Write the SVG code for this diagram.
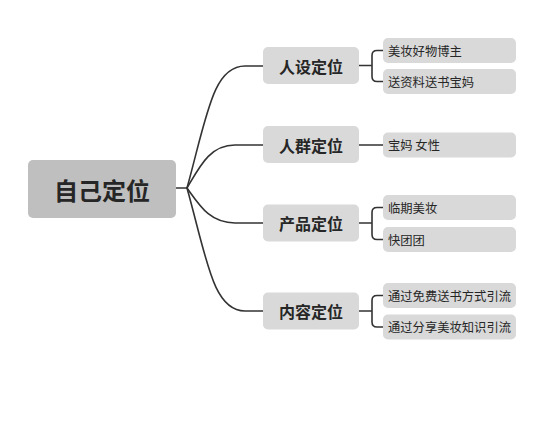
<svg xmlns="http://www.w3.org/2000/svg" width="560" height="424" viewBox="0 0 560 424">
<style>
text{font-family:"Noto Sans CJK SC","Noto Sans",sans-serif;fill:#262626}
.root{fill:#bfbfbf}
.l1{fill:#d9d9d9}
.l2{fill:#d9d9d9}
.t0{font-size:24px;font-weight:bold;text-anchor:middle;dominant-baseline:central}
.t1{font-size:16px;font-weight:bold;text-anchor:middle;dominant-baseline:central}
.t2{font-size:12.3px;dominant-baseline:central}
.c{fill:none;stroke:#333;stroke-width:1.6;stroke-linecap:round}
</style>
<rect width="560" height="424" fill="#fff"/>
<g id="connectors">
<path class="c" d="M176 188 H187"/>
<path class="c" d="M187 188 C207 115 213 66 245 66 H263"/>
<path class="c" d="M187 188 C200 166 210 145 235 145 H263"/>
<path class="c" d="M187 188 C200 206 210 223 235 223 H263"/>
<path class="c" d="M187 188 C207 260 213 311 245 311 H263"/>
<path class="c" d="M359 65.5 H372 M383 50.5 H377 Q372 50.5 372 55.5 V76.5 Q372 81.5 377 81.5 H383"/>
<path class="c" d="M359 145 H383"/>
<path class="c" d="M359 223 H372 M383 207.5 H377 Q372 207.5 372 212.5 V234.5 Q372 239.5 377 239.5 H383"/>
<path class="c" d="M359 311 H372 M383 295.5 H377 Q372 295.5 372 300.5 V322 Q372 327 377 327 H383"/>
</g>
<g id="root">
<rect class="root" x="28" y="160" width="148" height="58" rx="5"/>
<text class="t0" x="102" y="189">自己定位</text>
</g>
<g id="n1">
<rect class="l1" x="263" y="47" width="96" height="37" rx="5"/>
<text class="t1" x="311" y="65.5">人设定位</text>
</g>
<g id="n2">
<rect class="l1" x="263" y="126" width="96" height="37" rx="5"/>
<text class="t1" x="311" y="144.5">人群定位</text>
</g>
<g id="n3">
<rect class="l1" x="263" y="204.5" width="96" height="37" rx="5"/>
<text class="t1" x="311" y="223">产品定位</text>
</g>
<g id="n4">
<rect class="l1" x="263" y="292.5" width="96" height="37" rx="5"/>
<text class="t1" x="311" y="311">内容定位</text>
</g>
<g id="n1a">
<rect class="l2" x="383" y="38" width="133" height="25" rx="5"/>
<text class="t2" x="388" y="50.5">美妆好物博主</text>
</g>
<g id="n1b">
<rect class="l2" x="383" y="69" width="133" height="25" rx="5"/>
<text class="t2" x="388" y="81.5">送资料送书宝妈</text>
</g>
<g id="n2a">
<rect class="l2" x="383" y="132.5" width="133" height="25" rx="5"/>
<text class="t2" x="388" y="145">宝妈 女性</text>
</g>
<g id="n3a">
<rect class="l2" x="383" y="195" width="133" height="25" rx="5"/>
<text class="t2" x="388" y="207.5">临期美妆</text>
</g>
<g id="n3b">
<rect class="l2" x="383" y="227" width="133" height="25" rx="5"/>
<text class="t2" x="388" y="239.5">快团团</text>
</g>
<g id="n4a">
<rect class="l2" x="383" y="283" width="133" height="25" rx="5"/>
<text class="t2" x="388" y="295.5">通过免费送书方式引流</text>
</g>
<g id="n4b">
<rect class="l2" x="383" y="314.5" width="133" height="25" rx="5"/>
<text class="t2" x="388" y="327">通过分享美妆知识引流</text>
</g>
</svg>
